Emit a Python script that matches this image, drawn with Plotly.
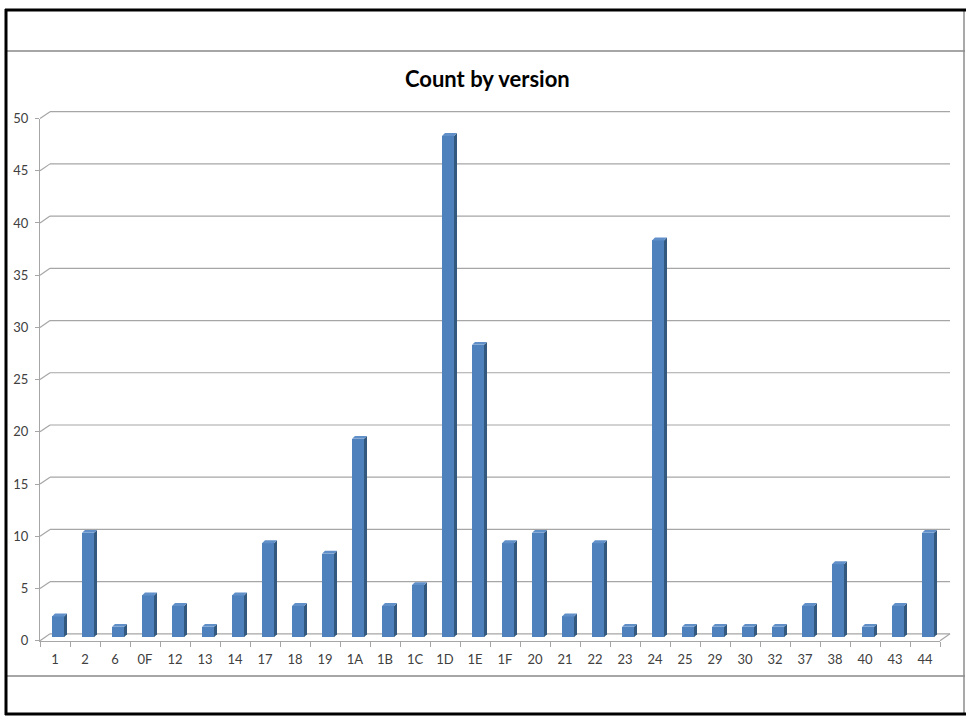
import plotly.graph_objects as go

# Counts per version code
versions = ["1", "2", "6", "0F", "12", "13", "14", "17", "18", "19", "1A", "1B", "1C",
            "1D", "1E", "1F", "20", "21", "22", "23", "24", "25", "29", "30", "32",
            "37", "38", "40", "43", "44"]
counts = [2, 10, 1, 4, 3, 1, 4, 9, 3, 8, 19, 3, 5, 48, 28, 9, 10, 2, 9, 1, 38,
          1, 1, 1, 1, 3, 7, 1, 3, 10]
y_ticks = list(range(0, 55, 5))

W, H = 966, 724
# pseudo-3D geometry (pixels)
FX0, FX1 = 40, 940          # front floor edge
DX, DY = 10, 7              # depth of the back wall
Y0 = 647                    # front zero line
PLOT_H = 534                # height of 0..50
Y_MAX = 50
PPU = PLOT_H / Y_MAX        # pixels per unit
BAR_DX, BAR_DY = 3, 3       # bar depth

def px(x):
    return x / W

def py(y):
    return 1 - y / H

def front_y(v):
    """Pixel row of value v on the front axis."""
    return Y0 - v * PPU

FRONT = "#4f81bd"
SIDE = "#34597f"
TOP = "#6190c9"
GRID = "#a6a6a6"
TEXT = "#404040"
FONT = "Lato"

idx = list(range(len(versions)))
bar_off = -0.1
bar_w = 0.4
dxu = BAR_DX / 30.0
dyu = BAR_DY / PPU

fig = go.Figure()

# invisible trace for the front axes
fig.add_trace(go.Scatter(x=[0], y=[0], xaxis="x2", yaxis="y2", mode="markers",
                         marker=dict(opacity=0), hoverinfo="skip", showlegend=False))
# front faces of the bars
fig.add_trace(go.Bar(x=idx, y=counts, xaxis="x2", yaxis="y3", width=bar_w, offset=bar_off,
                     marker=dict(color=FRONT, line=dict(width=0)), showlegend=False))

shapes = []
# back-wall gridlines and left-wall connectors
for v in y_ticks:
    yf = front_y(v)
    yb = yf - DY
    shapes.append(dict(type="line", xref="paper", yref="paper", layer="below",
                       x0=px(FX0 + DX), y0=py(yb), x1=px(FX1 + DX), y1=py(yb),
                       line=dict(color=GRID, width=1.2)))
    shapes.append(dict(type="line", xref="paper", yref="paper", layer="below",
                       x0=px(FX0), y0=py(yf), x1=px(FX0 + DX), y1=py(yb),
                       line=dict(color=GRID, width=1.2)))
# right floor edge
shapes.append(dict(type="line", xref="paper", yref="paper", layer="below",
                   x0=px(FX1), y0=py(front_y(0)), x1=px(FX1 + DX), y1=py(front_y(0) - DY),
                   line=dict(color=GRID, width=1.2)))

# side and top faces of each bar
for i, v in zip(idx, counts):
    xl = i + bar_off
    xr = xl + bar_w
    side = (f"M {xr} 0 L {xr + dxu} {dyu} L {xr + dxu} {v + dyu} L {xr} {v} Z")
    top = (f"M {xl} {v} L {xr} {v} L {xr + dxu} {v + dyu} L {xl + dxu} {v + dyu} Z")
    shapes.append(dict(type="path", path=side, xref="x2", yref="y3",
                       fillcolor=SIDE, line=dict(width=0)))
    shapes.append(dict(type="path", path=top, xref="x2", yref="y3",
                       fillcolor=TOP, line=dict(width=0)))

# sheet cell borders and frame
shapes.append(dict(type="line", xref="paper", yref="paper", x0=px(7), x1=px(965),
                   y0=py(44), y1=py(44), line=dict(color=GRID, width=2)))
shapes.append(dict(type="line", xref="paper", yref="paper", x0=px(7), x1=px(965),
                   y0=py(683), y1=py(683), line=dict(color=GRID, width=2)))
shapes.append(dict(type="line", xref="paper", yref="paper", x0=px(964), x1=px(964),
                   y0=py(2), y1=py(722), line=dict(color="#8c8c8c", width=1.5)))
shapes.append(dict(type="line", xref="paper", yref="paper", x0=px(6), x1=px(6),
                   y0=py(1), y1=py(723), line=dict(color="black", width=3)))
shapes.append(dict(type="line", xref="paper", yref="paper", x0=px(5), x1=px(966),
                   y0=py(2), y1=py(2), line=dict(color="black", width=3)))
shapes.append(dict(type="line", xref="paper", yref="paper", x0=px(5), x1=px(966),
                   y0=py(722), y1=py(722), line=dict(color="black", width=3)))

fig.update_layout(
    width=W, height=H,
    margin=dict(l=0, r=0, t=0, b=0),
    paper_bgcolor="white",
    plot_bgcolor="rgba(0,0,0,0)",
    font=dict(family=FONT, color=TEXT, size=13),
    showlegend=False,
    bargap=0,
    shapes=shapes,
    xaxis2=dict(domain=[px(FX0), px(FX1)], range=[-0.5, 29.5], anchor="y2",
                tickvals=idx, ticktext=versions, ticks="", showgrid=False, zeroline=False,
                showline=True, linecolor=GRID, linewidth=1.2,
                ticklabelstandoff=7,
                tickfont=dict(family=FONT, size=13, color=TEXT),
                minor=dict(tick0=-0.5, dtick=1, ticks="outside", ticklen=5,
                           tickcolor=GRID, showgrid=False)),
    yaxis2=dict(domain=[py(Y0), py(Y0 - PLOT_H)], range=[0, Y_MAX], anchor="x2",
                tickvals=y_ticks, ticks="outside", ticklen=4, tickcolor=GRID,
                showline=True, linecolor=GRID, linewidth=1.2, showgrid=False,
                zeroline=False, ticklabelstandoff=4,
                tickfont=dict(family=FONT, size=13, color=TEXT)),
    yaxis3=dict(domain=[py(Y0 - 3.5), py(Y0 - 3.5 - PLOT_H)], range=[0, Y_MAX], anchor="x2",
                visible=False, fixedrange=True),
    annotations=[dict(text="<b>Count by version</b>", x=px(487), y=py(72),
                      xref="paper", yref="paper", xanchor="center", yanchor="middle",
                      showarrow=False, font=dict(family=FONT, size=22, color="black"))],
)

fig.write_html("out.html")
